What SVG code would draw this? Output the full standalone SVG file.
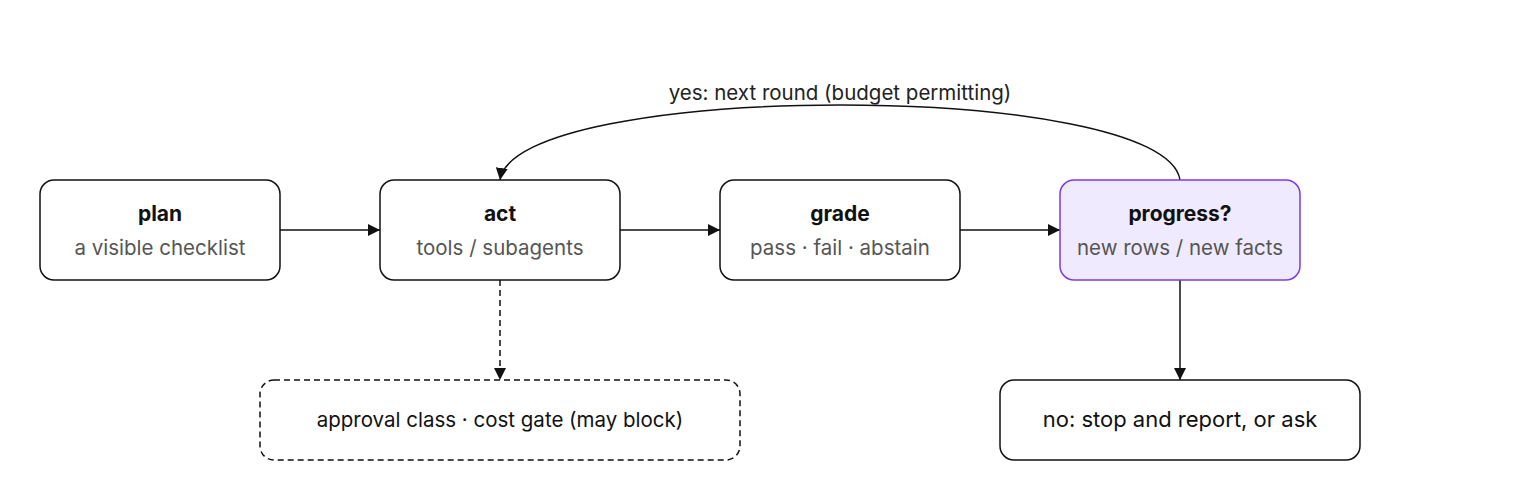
<svg xmlns="http://www.w3.org/2000/svg" width="1520" height="500" viewBox="0 0 1520 500">
<style>
.box{fill:#fff;stroke:#111;stroke-width:1.5}
.t{font-family:Inter,"Noto Sans",sans-serif;font-size:21px;font-weight:700;fill:#111;text-anchor:middle}
.s{font-family:Inter,"Noto Sans",sans-serif;font-size:20.5px;fill:#555;text-anchor:middle}
.l{font-family:Inter,"Noto Sans",sans-serif;font-size:20.5px;fill:#222;text-anchor:middle}
.c{fill:none;stroke:#111;stroke-width:1.5}
</style>
<defs><marker id="a" viewBox="0 0 10 10" refX="10" refY="5" markerWidth="12" markerHeight="12" orient="auto" markerUnits="userSpaceOnUse"><path d="M0,0L10,5L0,10z" fill="#111"/></marker></defs>
<rect width="1520" height="500" fill="#fff"/>
<g id="connectors">
<path class="c" d="M280,230H380" marker-end="url(#a)"/>
<path class="c" d="M620,230H720" marker-end="url(#a)"/>
<path class="c" d="M960,230H1060" marker-end="url(#a)"/>
<path class="c" d="M500,280V380" stroke-dasharray="6,4" marker-end="url(#a)"/>
<path class="c" d="M1180,280V380" marker-end="url(#a)"/>
<path class="c" d="M1180,180C1165,80 515,80 500,180" marker-end="url(#a)"/>
<text class="l" x="840" y="100">yes: next round (budget permitting)</text>
</g>
<g id="plan"><rect class="box" x="40" y="180" width="240" height="100" rx="14"/><text class="t" x="160" y="221">plan</text><text class="s" x="160" y="255">a visible checklist</text></g>
<g id="act"><rect class="box" x="380" y="180" width="240" height="100" rx="14"/><text class="t" x="500" y="221">act</text><text class="s" x="500" y="255">tools / subagents</text></g>
<g id="grade"><rect class="box" x="720" y="180" width="240" height="100" rx="14"/><text class="t" x="840" y="221">grade</text><text class="s" x="840" y="255">pass · fail · abstain</text></g>
<g id="progress"><rect x="1060" y="180" width="240" height="100" rx="14" fill="#efeafd" stroke="#7c3aed" stroke-width="1.5"/><text class="t" x="1180" y="221">progress?</text><text class="s" x="1180" y="255">new rows / new facts</text></g>
<g id="approval"><rect class="box" x="260" y="380" width="480" height="80" rx="14" stroke-dasharray="6,4"/><text class="l" x="500" y="427" style="fill:#111">approval class · cost gate (may block)</text></g>
<g id="stop"><rect class="box" x="1000" y="380" width="360" height="80" rx="14"/><text class="l" x="1180" y="427" style="fill:#111;font-size:22px">no: stop and report, or ask</text></g>
</svg>
